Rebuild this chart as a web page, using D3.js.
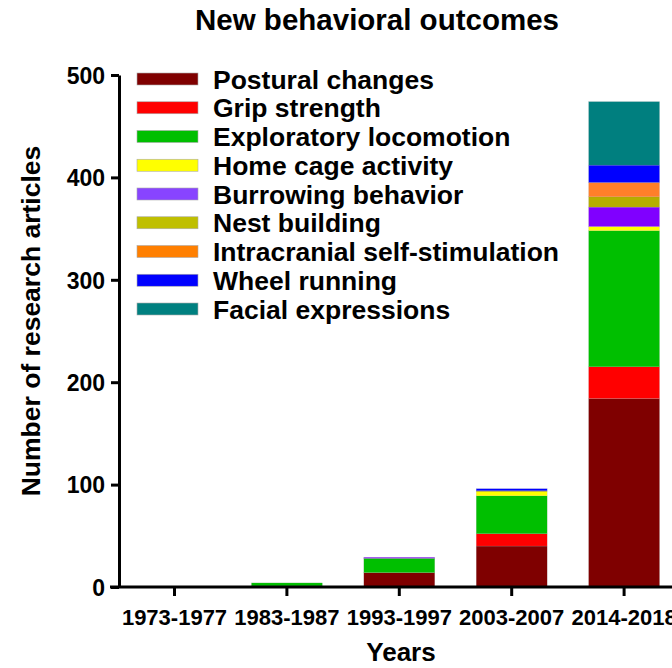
<!DOCTYPE html>
<html>
<head>
<meta charset="utf-8">
<script src="https://cdn.jsdelivr.net/npm/d3@7"></script>
<style>
  body { margin: 0; background: #fff; }
  svg text { font-family: "Liberation Sans", Arial, sans-serif; font-weight: bold; fill: #000; }
</style>
</head>
<body>
<div id="chart"></div>
<script>
// periods on the x axis
var periods = ['1973-1977', '1983-1987', '1993-1997', '2003-2007', '2014-2018'];

// outcome names, bottom of the stack first
var outcomes = ['Postural changes', 'Grip strength', 'Exploratory locomotion', 'Home cage activity',
  'Burrowing behavior', 'Nest building', 'Intracranial self-stimulation', 'Wheel running', 'Facial expressions'];

// article counts per period, one array per outcome
var postural     = [0, 1, 14, 40, 184];
var grip         = [0, 0, 0, 12, 31];
var exploratory  = [0, 3, 14, 37, 133];
var homeCage     = [0, 0, 0, 4, 4];
var burrowing    = [0, 0, 1, 0, 19];
var nest         = [0, 0, 0, 1, 10];
var icss         = [0, 0, 0, 0, 14];
var wheel        = [0, 0, 0, 2, 17];
var facial       = [0, 0, 0, 0, 62];

var yTicks = [0, 100, 200, 300, 400, 500];

var colors = ['#7f0000', '#ff0000', '#00bf00', '#ffff00', '#8000ff', '#b5ad00', '#ff7f2a', '#0000ff', '#007f7f'];
var swatchColors = ['#7f0000', '#ff0000', '#00bf00', '#ffff00', '#8844ff', '#bfbf00', '#ff7f00', '#0000ff', '#008080'];

var series = [postural, grip, exploratory, homeCage, burrowing, nest, icss, wheel, facial];

// build rows for d3.stack
var rows = periods.map(function(p, i){
  var r = {period: p};
  outcomes.forEach(function(o, k){ r[o] = series[k][i]; });
  return r;
});

var W = 672, H = 668;
var svg = d3.select('#chart').append('svg').attr('width', W).attr('height', H);

var x = d3.scaleBand().domain(periods).range([118.3, 680.3]).paddingInner(0.369).paddingOuter(0.1845);
var y = d3.scaleLinear().domain([0, 500]).range([587, 75]);
var color = d3.scaleOrdinal().domain(outcomes).range(colors);

var stacked = d3.stack().keys(outcomes)(rows);

//bars
var layers = svg.selectAll('.layer').data(stacked).enter().append('g')
  .attr('class', 'layer')
  .attr('fill', function(d){ return color(d.key); });
layers.selectAll('rect').data(function(d){ return d; }).enter().append('rect')
  .attr('x', function(d){ return x(d.data.period); })
  .attr('width', x.bandwidth())
  .attr('y', function(d){ return y(d[1]); })
  .attr('height', function(d){ return y(d[0]) - y(d[1]); })
  .attr('stroke', '#aaa')
  .attr('stroke-opacity', 0.6)
  .attr('stroke-width', function(d){ return d[1] > d[0] ? 0.3 : 0; });

//y axis
var yAxis = svg.append('g').attr('transform', 'translate(119,0)')
  .call(d3.axisLeft(y).tickValues(yTicks).tickSize(8).tickSizeOuter(0).tickPadding(6));
yAxis.select('.domain').attr('stroke-width', 3);
yAxis.selectAll('.tick line').attr('stroke-width', 3);
yAxis.selectAll('.tick text').style('font-size', '23px').attr('dy', '0.36em');

//x axis
var xAxis = svg.append('g').attr('transform', 'translate(0,587)')
  .call(d3.axisBottom(x).tickSize(9).tickSizeOuter(0).tickPadding(13));
xAxis.select('.domain').attr('d', 'M110,0H' + W).attr('stroke-width', 3);
xAxis.selectAll('.tick line').attr('stroke-width', 3);
xAxis.selectAll('.tick text').style('font-size', '22px');

//titles
svg.append('text').attr('x', 377).attr('y', 30).attr('text-anchor', 'middle')
  .style('font-size', '29.5px').text('New behavioral outcomes');
svg.append('text').attr('x', 401).attr('y', 661).attr('text-anchor', 'middle')
  .style('font-size', '26px').text('Years');
svg.append('text').attr('transform', 'translate(40,321) rotate(-90)').attr('text-anchor', 'middle')
  .style('font-size', '26.5px').text('Number of research articles');

//legend
var ly = d3.scaleLinear().domain([0, outcomes.length - 1]).range([79, 309]);
var legend = svg.selectAll('.legend').data(outcomes).enter().append('g')
  .attr('class', 'legend')
  .attr('transform', function(d, i){ return 'translate(137,' + ly(i) + ')'; });
legend.append('rect').attr('x', 0).attr('y', -6).attr('width', 61).attr('height', 12)
  .attr('fill', function(d, i){ return swatchColors[i]; })
  .attr('stroke', '#aaa').attr('stroke-width', 0.6);
legend.append('text').attr('x', 76).attr('dy', '0.36em').style('font-size', '26.5px')
  .text(function(d){ return d; });
</script>
</body>
</html>
